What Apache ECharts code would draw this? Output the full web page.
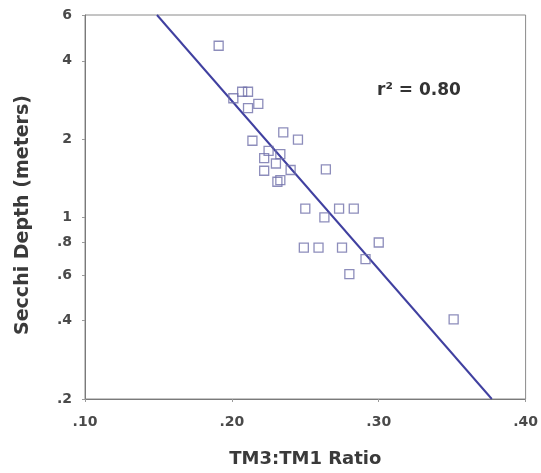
<!DOCTYPE html>
<html>
<head>
<meta charset="utf-8">
<script src="https://cdn.jsdelivr.net/npm/echarts@6/dist/echarts.min.js"></script>
<style>
  html, body { margin: 0; padding: 0; background: #fff; }
  #chart { width: 541px; height: 473px; }
</style>
</head>
<body>
<div id="chart"></div>
<script>
// TM3:TM1 ratio vs Secchi depth
var ratio = [0.191, 0.201, 0.207, 0.211, 0.218, 0.211, 0.214, 0.235, 0.245, 0.225,
             0.233, 0.222, 0.230, 0.222, 0.240, 0.264, 0.231, 0.233, 0.250, 0.263,
             0.273, 0.283, 0.249, 0.259, 0.275, 0.300, 0.291, 0.280, 0.351];
var depth = [4.57, 2.87, 3.04, 3.04, 2.73, 2.63, 1.97, 2.12, 1.99, 1.80,
             1.75, 1.69, 1.61, 1.51, 1.52, 1.53, 1.37, 1.39, 1.08, 1.00,
             1.08, 1.08, 0.764, 0.764, 0.764, 0.80, 0.69, 0.605, 0.405];
// fitted line end points
var fitX = [0.149, 0.377];
var fitY = [6, 0.2];
var yTicks = [0.2, 0.4, 0.6, 0.8, 1, 2, 4, 6];

var points = [];
for (var i = 0; i < ratio.length; i++) {
    points.push([ratio[i], depth[i]]);
}
var fit = [];
for (var j = 0; j < fitX.length; j++) {
    fit.push([fitX[j], fitY[j]]);
}

var font = 'DejaVu Sans, Liberation Sans, sans-serif';
var myChart = echarts.init(document.getElementById('chart'));
var option = {
    backgroundColor: '#fff',
    animation: false,
    grid: {
        left: 85, right: 15, top: 15, bottom: 74,
        show: true, borderColor: '#8a8a8a', borderWidth: 1
    },
    xAxis: {
        type: 'value',
        min: 0.1, max: 0.4, interval: 0.1,
        name: 'TM3:TM1 Ratio',
        nameLocation: 'middle',
        nameGap: 51,
        nameTextStyle: { fontFamily: font, fontWeight: 'bold', fontSize: 18, color: '#3a3a3a' },
        axisLine: { show: true, lineStyle: { color: '#7a7a7a' } },
        axisTick: { show: true, length: 3, lineStyle: { color: '#9a9a9a' } },
        splitLine: { show: false },
        axisLabel: {
            fontFamily: font, fontWeight: 'bold', fontSize: 14, color: '#4a4a4a', margin: 16,
            formatter: function (v) { return v.toFixed(2).replace(/^0/, ''); }
        }
    },
    yAxis: {
        type: 'log',
        logBase: 10,
        min: 0.2, max: 6,
        name: 'Secchi Depth (meters)',
        nameLocation: 'middle',
        nameGap: 52,
        nameTextStyle: {
            fontFamily: font, fontWeight: 'bold', fontSize: 19, color: '#3a3a3a',
            padding: [0, 16, 0, 0]
        },
        axisLine: { show: true, lineStyle: { color: '#7a7a7a' } },
        axisTick: { show: true, length: 3, customValues: yTicks, lineStyle: { color: '#9a9a9a' } },
        splitLine: { show: false },
        minorTick: { show: false },
        axisLabel: {
            fontFamily: font, fontWeight: 'bold', fontSize: 14, color: '#4a4a4a', margin: 13,
            customValues: yTicks,
            formatter: function (v) {
                if (v >= 1) return String(Math.round(v));
                return String(Math.round(v * 10) / 10).replace(/^0/, '');
            }
        }
    },
    series: [
        {
            type: 'scatter',
            data: points,
            symbol: 'rect',
            symbolSize: 9,
            itemStyle: { color: 'rgba(255,255,255,0)', borderColor: '#7070aa', borderWidth: 1.3 },
            z: 3
        },
        {
            type: 'line',
            data: fit,
            symbol: 'none',
            lineStyle: { color: '#4040a0', width: 2 },
            z: 2
        }
    ],
    graphic: [{
        type: 'text',
        left: 377, top: 82,
        style: {
            text: 'r\u00b2 = 0.80',
            font: 'bold 17px ' + font,
            fill: '#333'
        }
    }]
};
myChart.setOption(option);
</script>
</body>
</html>
